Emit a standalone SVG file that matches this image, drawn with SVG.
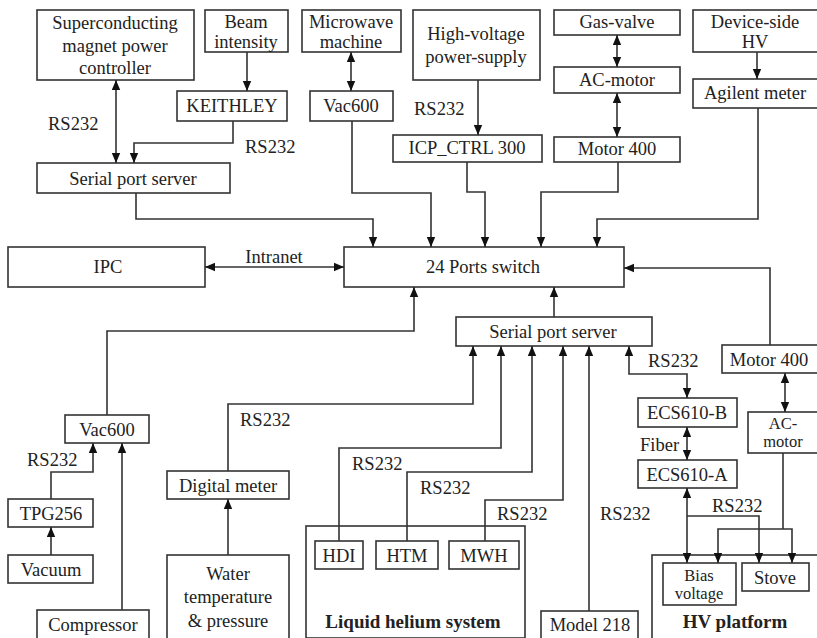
<svg xmlns="http://www.w3.org/2000/svg" width="817" height="638" viewBox="0 0 817 638">
<style>
.n rect{fill:#fff;stroke:#333;stroke-width:1.6}
text{font-family:"Liberation Serif","Times New Roman",serif;font-size:18.5px;fill:#222;text-anchor:middle}
.l{text-anchor:start}
.s{font-size:16.5px}
.b{font-weight:bold;font-size:19px}
#conn path{fill:none;stroke:#333;stroke-width:1.6}
</style>
<defs>
<marker id="ah" viewBox="0 0 10 10" refX="10" refY="5" markerWidth="10" markerHeight="10" markerUnits="userSpaceOnUse" orient="auto-start-reverse"><path d="M0,0.8 L10,5 L0,9.2 z" fill="#111"/></marker>
</defs>
<rect width="817" height="638" fill="#fff"/>

<g class="n" id="lh"><rect x="306" y="526" width="219" height="112"/><text class="b" x="413" y="628">Liquid helium system</text></g>
<g class="n" id="hvp"><rect x="652" y="555" width="170" height="90"/><text class="b" x="735" y="628">HV platform</text></g>

<g class="n" id="sc"><rect x="37" y="10" width="157" height="70"/><text x="115" y="29">Superconducting</text><text x="115" y="52">magnet power</text><text x="115" y="74">controller</text></g>
<g class="n" id="beam"><rect x="205" y="10" width="83" height="42"/><text x="246" y="28">Beam</text><text x="246" y="48">intensity</text></g>
<g class="n" id="mw"><rect x="302" y="10" width="99" height="42"/><text x="351" y="28">Microwave</text><text x="351" y="48">machine</text></g>
<g class="n" id="hvps"><rect x="413" y="10" width="127" height="70"/><text x="476" y="40">High-voltage</text><text x="476" y="63">power-supply</text></g>
<g class="n" id="gas"><rect x="554" y="10" width="126" height="25"/><text x="617" y="28">Gas-valve</text></g>
<g class="n" id="acm1"><rect x="554" y="67" width="126" height="26"/><text x="617" y="86">AC-motor</text></g>
<g class="n" id="mot1"><rect x="554" y="137" width="126" height="25"/><text x="617" y="155">Motor 400</text></g>
<g class="n" id="dhv"><rect x="693" y="10" width="130" height="42"/><text x="755" y="28">Device-side</text><text x="755" y="48">HV</text></g>
<g class="n" id="agi"><rect x="693" y="79" width="130" height="29"/><text x="755" y="99">Agilent meter</text></g>
<g class="n" id="keith"><rect x="177" y="91" width="110" height="30"/><text x="232" y="112">KEITHLEY</text></g>
<g class="n" id="vac1"><rect x="310" y="91" width="83" height="30"/><text x="351" y="112">Vac600</text></g>
<g class="n" id="icp"><rect x="393" y="135" width="149" height="27"/><text x="467" y="154">ICP_CTRL 300</text></g>
<g class="n" id="sps1"><rect x="37" y="163" width="193" height="30"/><text x="133" y="185">Serial port server</text></g>
<g class="n" id="ipc"><rect x="8" y="247" width="197" height="40"/><text x="108" y="273">IPC</text></g>
<g class="n" id="sw"><rect x="344" y="247" width="280" height="40"/><text x="483" y="273">24 Ports switch</text></g>
<g class="n" id="sps2"><rect x="456" y="317" width="196" height="29"/><text x="553" y="338">Serial port server</text></g>
<g class="n" id="mot2"><rect x="722" y="345" width="100" height="28"/><text x="769" y="366">Motor 400</text></g>
<g class="n" id="ecsb"><rect x="638" y="398" width="99" height="29"/><text x="687" y="419">ECS610-B</text></g>
<g class="n" id="acm2"><rect x="748" y="412" width="74" height="41"/><text class="s" x="783" y="429">AC-</text><text class="s" x="783" y="447">motor</text></g>
<g class="n" id="ecsa"><rect x="638" y="460" width="99" height="28"/><text x="687" y="481">ECS610-A</text></g>
<g class="n" id="vac2"><rect x="65" y="415" width="84" height="28"/><text x="107" y="436">Vac600</text></g>
<g class="n" id="tpg"><rect x="8" y="499" width="85" height="28"/><text x="51" y="520">TPG256</text></g>
<g class="n" id="vacuum"><rect x="8" y="555" width="85" height="28"/><text x="51" y="576">Vacuum</text></g>
<g class="n" id="comp"><rect x="37" y="610" width="112" height="35"/><text x="93" y="631">Compressor</text></g>
<g class="n" id="dm"><rect x="167" y="471" width="122" height="28"/><text x="228" y="492">Digital meter</text></g>
<g class="n" id="water"><rect x="167" y="555" width="122" height="90"/><text x="228" y="580">Water</text><text x="228" y="603">temperature</text><text x="228" y="627">&amp; pressure</text></g>
<g class="n" id="hdi"><rect x="315" y="541" width="48" height="28"/><text x="339" y="562">HDI</text></g>
<g class="n" id="htm"><rect x="376" y="541" width="62" height="28"/><text x="407" y="562">HTM</text></g>
<g class="n" id="mwh"><rect x="449" y="541" width="70" height="28"/><text x="484" y="562">MWH</text></g>
<g class="n" id="m218"><rect x="541" y="611" width="97" height="34"/><text x="590" y="631">Model 218</text></g>
<g class="n" id="bias"><rect x="663" y="563" width="73" height="42"/><text class="s" x="699" y="581">Bias</text><text class="s" x="699" y="599">voltage</text></g>
<g class="n" id="stove"><rect x="742" y="563" width="67" height="28"/><text x="775" y="584">Stove</text></g>

<g id="conn">
<path d="M116,80 V163" marker-start="url(#ah)" marker-end="url(#ah)"/>
<path d="M247,52 V91" marker-end="url(#ah)"/>
<path d="M351,52 V91" marker-start="url(#ah)" marker-end="url(#ah)"/>
<path d="M233,121 V143 H134 V163" marker-end="url(#ah)"/>
<path d="M478,80 V135" marker-end="url(#ah)"/>
<path d="M617,35 V67" marker-start="url(#ah)" marker-end="url(#ah)"/>
<path d="M617,93 V137" marker-start="url(#ah)" marker-end="url(#ah)"/>
<path d="M757,52 V79" marker-end="url(#ah)"/>
<path d="M136,193 V219 H373 V247" marker-end="url(#ah)"/>
<path d="M352,121 V193 H431 V247" marker-end="url(#ah)"/>
<path d="M467,162 V192 H485 V247" marker-end="url(#ah)"/>
<path d="M618,162 V192 H541 V247" marker-end="url(#ah)"/>
<path d="M758,108 V219 H597 V247" marker-end="url(#ah)"/>
<path d="M205,267 H344" marker-start="url(#ah)" marker-end="url(#ah)"/>
<path d="M770,345 V268 H624" marker-end="url(#ah)"/>
<path d="M554,317 V287" marker-end="url(#ah)"/>
<path d="M107,415 V331 H414 V287" marker-end="url(#ah)"/>
<path d="M228,471 V404 H473 V346" marker-end="url(#ah)"/>
<path d="M339,541 V448 H501 V346" marker-end="url(#ah)"/>
<path d="M407,541 V472 H532 V346" marker-end="url(#ah)"/>
<path d="M485,541 V500 H563 V346" marker-end="url(#ah)"/>
<path d="M589,611 V346" marker-end="url(#ah)"/>
<path d="M629,346 V374 H687 V398" marker-start="url(#ah)" marker-end="url(#ah)"/>
<path d="M687,427 V460" marker-start="url(#ah)" marker-end="url(#ah)"/>
<path d="M785,373 V412" marker-start="url(#ah)" marker-end="url(#ah)"/>
<path d="M687,488 V563" marker-start="url(#ah)" marker-end="url(#ah)"/>
<path d="M687,516 H759 V563" marker-end="url(#ah)"/>
<path d="M783,453 V529"/>
<path d="M783,529 H718 V563" marker-end="url(#ah)"/>
<path d="M783,529 H792 V563" marker-end="url(#ah)"/>
<path d="M228,555 V499" marker-end="url(#ah)"/>
<path d="M51,499 V472 H93 V443" marker-end="url(#ah)"/>
<path d="M51,555 V527" marker-end="url(#ah)"/>
<path d="M122,610 V443" marker-end="url(#ah)"/>
</g>

<g id="labels">
<text class="l" x="48" y="130">RS232</text>
<text class="l" x="245" y="153">RS232</text>
<text class="l" x="414" y="115">RS232</text>
<text x="274" y="263">Intranet</text>
<text class="l" x="648" y="367">RS232</text>
<text class="l" x="640" y="451">Fiber</text>
<text class="l" x="712" y="512">RS232</text>
<text class="l" x="240" y="426">RS232</text>
<text class="l" x="352" y="470">RS232</text>
<text class="l" x="420" y="494">RS232</text>
<text class="l" x="497" y="520">RS232</text>
<text class="l" x="600" y="520">RS232</text>
<text class="l" x="27" y="466">RS232</text>
</g>
</svg>
